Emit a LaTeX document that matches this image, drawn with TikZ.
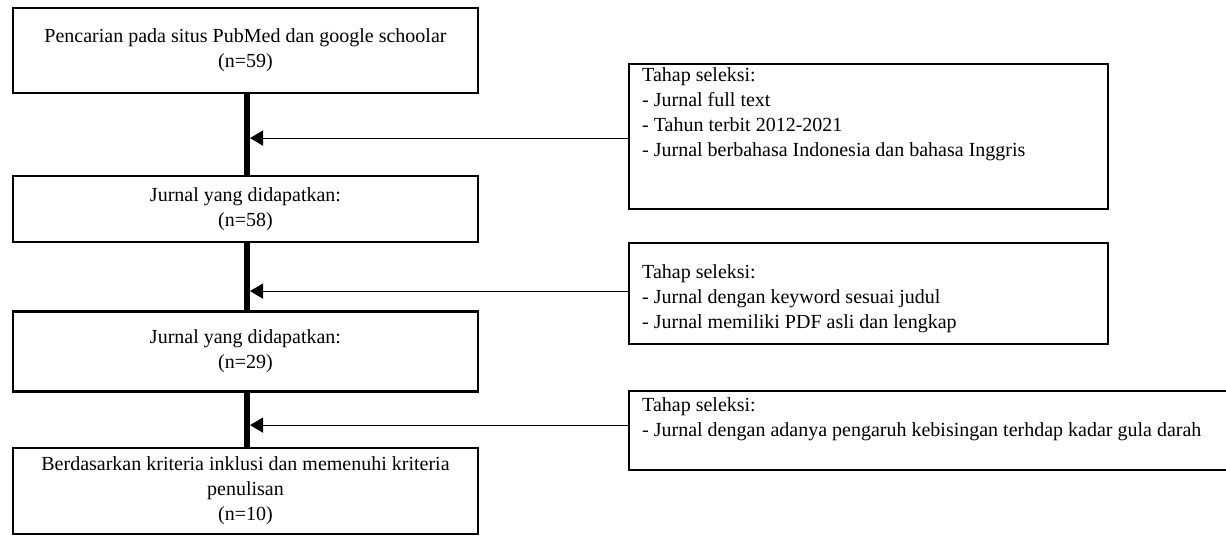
\documentclass[tikz,border=0pt]{standalone}
\usepackage{fontspec}
\setmainfont{Liberation Serif}
\usetikzlibrary{arrows.meta,positioning}

\begin{document}
\begin{tikzpicture}
  [x=1pt, y=-1pt, font=\fontsize{20}{25}\selectfont,
   every node/.style={inner sep=0pt},
   flowbox/.style={draw, line width=2.2pt, minimum width=465pt, align=center},
   selbox/.style={draw, line width=2.2pt, anchor=north west, minimum width=479pt},
   seltext/.style={anchor=north west, align=left},
   trunk/.style={line width=6pt},
   feed/.style={line width=1.2pt, -{Triangle[length=13pt,width=15pt]}}]
  \useasboundingbox (0,0) rectangle (1226,536);
  % main column
  \node[flowbox, minimum height=85pt] (cari) at (245.5,50.5)
    {Pencarian pada situs PubMed dan google schoolar\\(n=59)};
  \node[flowbox, minimum height=66pt, below=81pt of cari] (dapat1)
    {Jurnal yang didapatkan:\\(n=58)};
  \node[flowbox, minimum height=80pt, below=67pt of dapat1] (dapat2)
    {Jurnal yang didapatkan:\\(n=29)};
  \node[flowbox, minimum height=86pt, below=54pt of dapat2] (hasil)
    {Berdasarkan kriteria inklusi dan memenuhi kriteria\\penulisan\\(n=10)};
  % selection boxes
  \node[selbox, minimum height=145pt] (sel1) at (628,63) {};
  \node[selbox, minimum height=101pt] (sel2) at (628,242) {};
  \node[selbox, minimum height=79pt, minimum width=600pt] (sel3) at (628,390) {};
  \node[seltext] (txt1) at ([xshift=14pt,yshift=-4pt]sel1.north west)
    {Tahap seleksi:\\- Jurnal full text\\- Tahun terbit 2012-2021\\- Jurnal berbahasa Indonesia dan bahasa Inggris};
  \node[seltext] (txt2) at ([xshift=14pt,yshift=-22pt]sel2.north west)
    {Tahap seleksi:\\- Jurnal dengan keyword sesuai judul\\- Jurnal memiliki PDF asli dan lengkap};
  \node[seltext] (txt3) at ([xshift=14pt,yshift=-7pt]sel3.north west)
    {Tahap seleksi:\\- Jurnal dengan adanya pengaruh kebisingan terhdap kadar gula darah};
  % flow line
  \coordinate (spine) at (250,0);
  \draw[trunk] ([xshift=1.5pt]cari.south) -- ([xshift=1.5pt]dapat1.north);
  \draw[trunk] ([xshift=1.5pt]dapat1.south) -- ([xshift=1.5pt]dapat2.north);
  \draw[trunk] ([xshift=1.5pt]dapat2.south) -- ([xshift=1.5pt]hasil.north);
  \draw[feed] ([yshift=-1.5pt]sel1.west) -- ([yshift=-1.5pt]sel1.west -| spine);
  \draw[feed] ([yshift=2.5pt]sel2.west) -- ([yshift=2.5pt]sel2.west -| spine);
  \draw[feed] ([yshift=5.5pt]sel3.west) -- ([yshift=5.5pt]sel3.west -| spine);
\end{tikzpicture}
\end{document}
